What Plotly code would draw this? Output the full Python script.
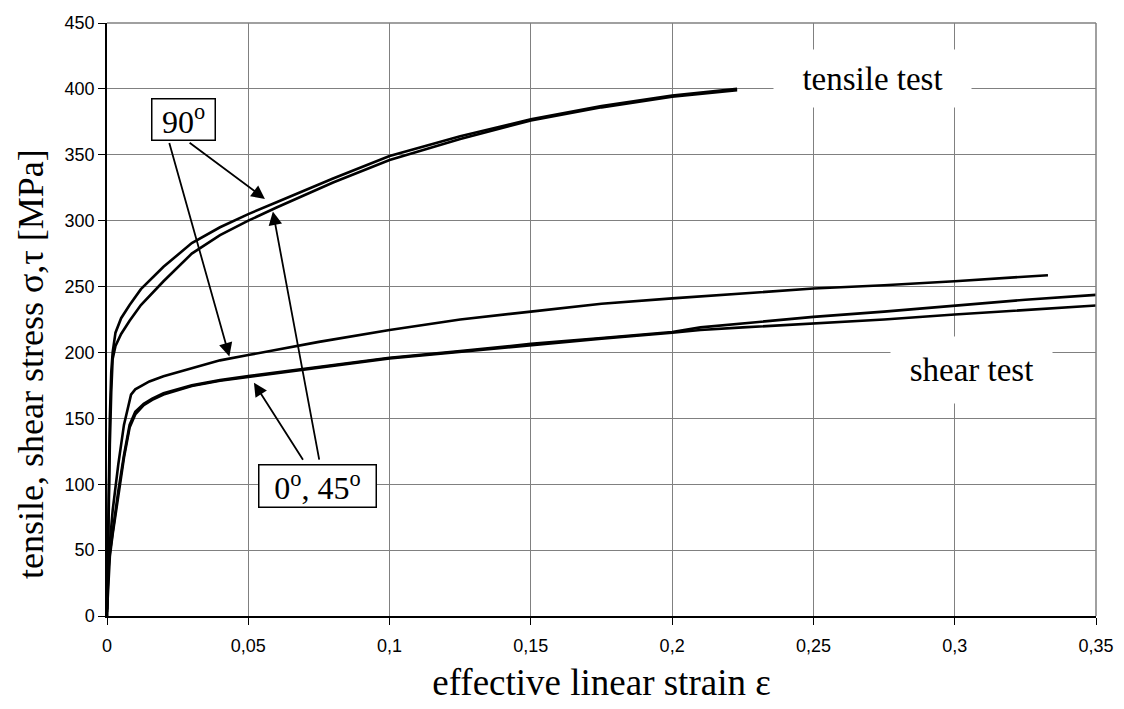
import plotly.graph_objects as go

# ---------------- data ----------------
tens_eps = [0, 0.0005, 0.001, 0.0015, 0.002, 0.003, 0.005, 0.008, 0.012, 0.02,
            0.03, 0.04, 0.05, 0.06, 0.08, 0.1, 0.125, 0.15, 0.175, 0.2, 0.223]
tens_90 = [0, 80, 150, 185, 200, 215, 226, 236, 248, 265,
           283, 295, 305, 314, 332, 349, 364, 377, 387, 395, 400]
tens_0_45 = [0, 70, 130, 170, 195, 205, 214, 224, 236, 254,
             275, 289, 300, 310, 329, 346, 362, 376, 386, 394, 399]

shear90_eps = [0, 0.0005, 0.001, 0.002, 0.004, 0.006, 0.0085, 0.01, 0.015, 0.02,
               0.03, 0.04, 0.05, 0.075, 0.1, 0.125, 0.15, 0.175, 0.2, 0.225,
               0.25, 0.275, 0.3, 0.333]
shear90 = [5, 40, 55, 80, 115, 145, 168, 172, 178, 182,
           188, 194, 198, 208, 217, 225, 231, 237, 241, 245,
           248.5, 251, 254, 258.6]

shear_eps = [0, 0.0005, 0.001, 0.002, 0.004, 0.006, 0.008, 0.01, 0.013, 0.016,
             0.02, 0.03, 0.04, 0.05, 0.075, 0.1, 0.125, 0.15, 0.175, 0.2,
             0.21, 0.225, 0.25, 0.275, 0.3, 0.325, 0.35]
shear_0 = [5, 35, 48, 65, 95, 122, 145, 155, 161, 165,
           169, 175, 179, 182, 189, 196, 201, 206.5, 211, 215.5,
           219, 222, 227, 231, 235.5, 240, 243.7]
shear_45 = [3, 30, 45, 62, 92, 120, 143, 153, 160, 164,
            168, 174.5, 178.5, 181.5, 188.5, 195.5, 200.5, 206, 210.5, 215,
            217, 219, 222, 225, 228.8, 232, 235.6]

x_ticks = [0, 0.05, 0.1, 0.15, 0.2, 0.25, 0.3, 0.35]
x_tick_labels = ["0", "0,05", "0,1", "0,15", "0,2", "0,25", "0,3", "0,35"]
y_ticks = [0, 50, 100, 150, 200, 250, 300, 350, 400, 450]
y_tick_labels = [str(v) for v in y_ticks]

# ---------------- figure ----------------
fig = go.Figure()
line = dict(color="black", width=2.6)
for xs, ys in [(tens_eps, tens_90), (tens_eps, tens_0_45),
               (shear90_eps, shear90), (shear_eps, shear_0), (shear_eps, shear_45)]:
    fig.add_trace(go.Scatter(x=xs, y=ys, mode="lines", line=line,
                             showlegend=False, hoverinfo="skip"))

serif = "Liberation Serif, Times New Roman, serif"
sans = "Liberation Sans, Arial, sans-serif"
grid = "#808080"

fig.update_layout(
    width=1116, height=701,
    margin=dict(l=99, r=28, t=15, b=93, autoexpand=False),
    paper_bgcolor="white", plot_bgcolor="white",
    showlegend=False,
    xaxis=dict(range=[0, 0.35], tickvals=x_ticks, ticktext=x_tick_labels,
               showgrid=True, gridcolor=grid, gridwidth=1,
               showline=True, linecolor="black", linewidth=1.5,
               ticks="outside", ticklen=7, tickcolor="black",
               ticklabelstandoff=6,
               zeroline=False, automargin=False,
               tickfont=dict(family=sans, size=18, color="black"),
               title=dict(text="effective linear strain ε",
                          font=dict(family=serif, size=37, color="black"),
                          standoff=14)),
    yaxis=dict(range=[0, 450], tickvals=y_ticks, ticktext=y_tick_labels,
               showgrid=True, gridcolor=grid, gridwidth=1,
               showline=True, linecolor="black", linewidth=1.5,
               ticks="outside", ticklen=7, tickcolor="black",
               zeroline=False, automargin=False,
               tickfont=dict(family=sans, size=18, color="black")),
)

# y-axis title (placed lower than centre, as in the reference)
fig.add_annotation(xref="paper", yref="paper", x=-0.0768, y=0.425,
                   xanchor="center", yanchor="middle", textangle=-90,
                   text="tensile, shear stress σ,τ [MPa]", showarrow=False,
                   borderpad=0,
                   font=dict(family=serif, size=36, color="black"))

# border lines on top / right in grey
fig.add_shape(type="line", xref="paper", yref="paper", x0=0, x1=1, y0=1, y1=1,
              line=dict(color=grid, width=1.5))
fig.add_shape(type="line", xref="paper", yref="paper", x0=1, x1=1, y0=0, y1=1,
              line=dict(color=grid, width=1.5))

# label boxes
fig.add_annotation(x=0.2708, y=408, xref="x", yref="y", text="tensile test",
                   showarrow=False, bgcolor="white", width=197, height=57,
                   borderpad=0, font=dict(family=serif, size=33, color="black"))
fig.add_annotation(x=0.3059, y=187, xref="x", yref="y", text="shear test",
                   showarrow=False, bgcolor="white", width=161, height=66,
                   borderpad=0, font=dict(family=serif, size=33, color="black"))
fig.add_annotation(x=0.0272, y=377, xref="x", yref="y", text="90<sup>o</sup>",
                   showarrow=False, bgcolor="white", bordercolor="black",
                   borderwidth=1.5, width=62, height=40, borderpad=0,
                   font=dict(family=serif, size=32, color="black"))
fig.add_annotation(x=0.0744, y=99, xref="x", yref="y", text="0<sup>o</sup>, 45<sup>o</sup>",
                   showarrow=False, bgcolor="white", bordercolor="black",
                   borderwidth=1.5, width=116, height=41, borderpad=0,
                   font=dict(family=serif, size=32, color="black"))

# arrows (head at x,y ; tail at ax,ay)
arrows = [
    (0.0559, 316.5, 0.0287, 360),
    (0.0433, 197, 0.0219, 360),
    (0.0587, 307, 0.0752, 117.5),
    (0.0520, 177, 0.0697, 117.5),
]
for hx, hy, tx, ty in arrows:
    fig.add_annotation(x=hx, y=hy, ax=tx, ay=ty, xref="x", yref="y",
                       axref="x", ayref="y", text="", showarrow=True,
                       arrowhead=2, arrowsize=1.5, arrowwidth=1.8,
                       arrowcolor="black", standoff=0, startstandoff=0)

fig.write_html("out.html")
